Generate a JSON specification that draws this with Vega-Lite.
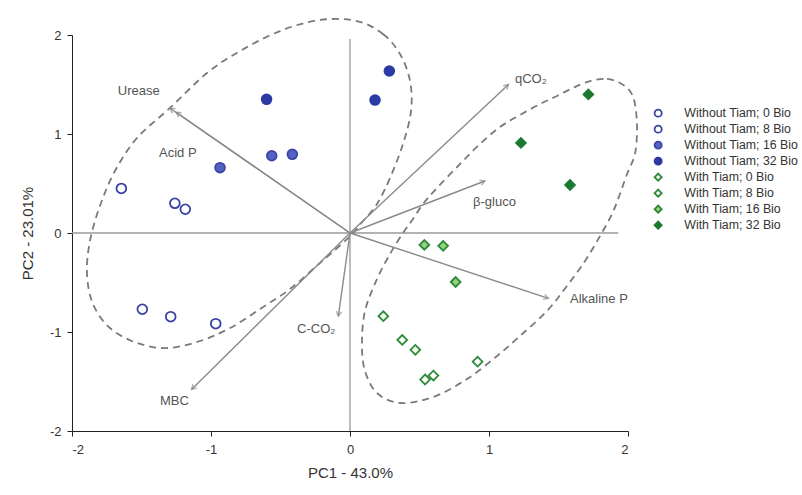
{
  "$schema": "https://vega.github.io/schema/vega-lite/v6.json",
  "width": 556,
  "height": 396,
  "autosize": {"type": "none"},
  "padding": {"left": 72, "top": 35, "right": 174, "bottom": 64},
  "background": "white",
  "config": {
    "font": "Liberation Sans",
    "view": {"stroke": null},
    "axis": {"grid": false, "domainColor": "#222", "tickColor": "#222", "tickSize": 5, "labelFontSize": 13, "labelColor": "#333", "titleFontSize": 15, "titleFontWeight": "normal", "titleColor": "#333"},
    "legend": {"symbolSize": 50, "symbolStrokeWidth": 1.8}
  },
  "datasets": {
    "scores": [
      {"group": "Without Tiam; 0 Bio", "pc1": -1.645, "pc2": 0.45},
      {"group": "Without Tiam; 0 Bio", "pc1": -1.26, "pc2": 0.30},
      {"group": "Without Tiam; 0 Bio", "pc1": -1.185, "pc2": 0.24},
      {"group": "Without Tiam; 8 Bio", "pc1": -1.494, "pc2": -0.77},
      {"group": "Without Tiam; 8 Bio", "pc1": -1.29, "pc2": -0.845},
      {"group": "Without Tiam; 8 Bio", "pc1": -0.966, "pc2": -0.916},
      {"group": "Without Tiam; 16 Bio", "pc1": -0.935, "pc2": 0.66},
      {"group": "Without Tiam; 16 Bio", "pc1": -0.563, "pc2": 0.78},
      {"group": "Without Tiam; 16 Bio", "pc1": -0.415, "pc2": 0.795},
      {"group": "Without Tiam; 32 Bio", "pc1": -0.60, "pc2": 1.35},
      {"group": "Without Tiam; 32 Bio", "pc1": 0.283, "pc2": 1.636},
      {"group": "Without Tiam; 32 Bio", "pc1": 0.18, "pc2": 1.343},
      {"group": "With Tiam; 0 Bio", "pc1": 0.24, "pc2": -0.84},
      {"group": "With Tiam; 0 Bio", "pc1": 0.376, "pc2": -1.08},
      {"group": "With Tiam; 0 Bio", "pc1": 0.47, "pc2": -1.18},
      {"group": "With Tiam; 8 Bio", "pc1": 0.918, "pc2": -1.30},
      {"group": "With Tiam; 8 Bio", "pc1": 0.54, "pc2": -1.48},
      {"group": "With Tiam; 8 Bio", "pc1": 0.60, "pc2": -1.44},
      {"group": "With Tiam; 16 Bio", "pc1": 0.535, "pc2": -0.12},
      {"group": "With Tiam; 16 Bio", "pc1": 0.67, "pc2": -0.13},
      {"group": "With Tiam; 16 Bio", "pc1": 0.76, "pc2": -0.495},
      {"group": "With Tiam; 32 Bio", "pc1": 1.715, "pc2": 1.40},
      {"group": "With Tiam; 32 Bio", "pc1": 1.23, "pc2": 0.91},
      {"group": "With Tiam; 32 Bio", "pc1": 1.583, "pc2": 0.485}
    ],
    "loadings": [
      {"var": "Urease", "x": -1.295, "y": 1.26, "lx": -1.67, "ly": 1.43},
      {"var": "Acid P", "x": -1.25, "y": 1.22, "lx": -1.374, "ly": 0.806},
      {"var": "MBC", "x": -1.14, "y": -1.58, "lx": -1.367, "ly": -1.697},
      {"var": "C-CO₂", "x": -0.084, "y": -0.84, "lx": -0.381, "ly": -0.97},
      {"var": "qCO₂", "x": 1.14, "y": 1.50, "lx": 1.187, "ly": 1.556},
      {"var": "β-gluco", "x": 0.97, "y": 0.525, "lx": 0.885, "ly": 0.313},
      {"var": "Alkaline P", "x": 1.427, "y": -0.66, "lx": 1.583, "ly": -0.667}
    ],
    "ellipses": [
      {"cluster": "A", "i": 0, "x": 0.050, "y": 2.141},
      {"cluster": "A", "i": 1, "x": 0.237, "y": 2.010},
      {"cluster": "A", "i": 2, "x": 0.360, "y": 1.808},
      {"cluster": "A", "i": 3, "x": 0.432, "y": 1.535},
      {"cluster": "A", "i": 4, "x": 0.439, "y": 1.232},
      {"cluster": "A", "i": 5, "x": 0.381, "y": 0.899},
      {"cluster": "A", "i": 6, "x": 0.288, "y": 0.556},
      {"cluster": "A", "i": 7, "x": 0.194, "y": 0.293},
      {"cluster": "A", "i": 8, "x": 0.094, "y": 0.121},
      {"cluster": "A", "i": 9, "x": -0.014, "y": -0.051},
      {"cluster": "A", "i": 10, "x": -0.216, "y": -0.303},
      {"cluster": "A", "i": 11, "x": -0.432, "y": -0.566},
      {"cluster": "A", "i": 12, "x": -0.647, "y": -0.768},
      {"cluster": "A", "i": 13, "x": -0.863, "y": -0.960},
      {"cluster": "A", "i": 14, "x": -1.079, "y": -1.091},
      {"cluster": "A", "i": 15, "x": -1.317, "y": -1.162},
      {"cluster": "A", "i": 16, "x": -1.532, "y": -1.111},
      {"cluster": "A", "i": 17, "x": -1.727, "y": -0.960},
      {"cluster": "A", "i": 18, "x": -1.849, "y": -0.717},
      {"cluster": "A", "i": 19, "x": -1.892, "y": -0.414},
      {"cluster": "A", "i": 20, "x": -1.871, "y": -0.081},
      {"cluster": "A", "i": 21, "x": -1.799, "y": 0.273},
      {"cluster": "A", "i": 22, "x": -1.691, "y": 0.626},
      {"cluster": "A", "i": 23, "x": -1.532, "y": 0.960},
      {"cluster": "A", "i": 24, "x": -1.295, "y": 1.263},
      {"cluster": "A", "i": 25, "x": -1.029, "y": 1.616},
      {"cluster": "A", "i": 26, "x": -0.791, "y": 1.838},
      {"cluster": "A", "i": 27, "x": -0.504, "y": 2.040},
      {"cluster": "A", "i": 28, "x": -0.216, "y": 2.152},
      {"cluster": "B", "i": 0, "x": 1.727, "y": 1.535},
      {"cluster": "B", "i": 1, "x": 1.849, "y": 1.556},
      {"cluster": "B", "i": 2, "x": 1.942, "y": 1.515},
      {"cluster": "B", "i": 3, "x": 2.014, "y": 1.434},
      {"cluster": "B", "i": 4, "x": 2.050, "y": 1.303},
      {"cluster": "B", "i": 5, "x": 2.065, "y": 1.061},
      {"cluster": "B", "i": 6, "x": 2.050, "y": 0.798},
      {"cluster": "B", "i": 7, "x": 1.993, "y": 0.596},
      {"cluster": "B", "i": 8, "x": 1.942, "y": 0.394},
      {"cluster": "B", "i": 9, "x": 1.885, "y": 0.192},
      {"cluster": "B", "i": 10, "x": 1.799, "y": -0.030},
      {"cluster": "B", "i": 11, "x": 1.691, "y": -0.283},
      {"cluster": "B", "i": 12, "x": 1.561, "y": -0.535},
      {"cluster": "B", "i": 13, "x": 1.417, "y": -0.788},
      {"cluster": "B", "i": 14, "x": 1.223, "y": -1.040},
      {"cluster": "B", "i": 15, "x": 1.058, "y": -1.242},
      {"cluster": "B", "i": 16, "x": 0.842, "y": -1.475},
      {"cluster": "B", "i": 17, "x": 0.597, "y": -1.657},
      {"cluster": "B", "i": 18, "x": 0.360, "y": -1.717},
      {"cluster": "B", "i": 19, "x": 0.194, "y": -1.616},
      {"cluster": "B", "i": 20, "x": 0.108, "y": -1.394},
      {"cluster": "B", "i": 21, "x": 0.086, "y": -1.121},
      {"cluster": "B", "i": 22, "x": 0.108, "y": -0.788},
      {"cluster": "B", "i": 23, "x": 0.194, "y": -0.465},
      {"cluster": "B", "i": 24, "x": 0.288, "y": -0.212},
      {"cluster": "B", "i": 25, "x": 0.381, "y": 0.000},
      {"cluster": "B", "i": 26, "x": 0.453, "y": 0.141},
      {"cluster": "B", "i": 27, "x": 0.525, "y": 0.293},
      {"cluster": "B", "i": 28, "x": 0.626, "y": 0.455},
      {"cluster": "B", "i": 29, "x": 0.791, "y": 0.697},
      {"cluster": "B", "i": 30, "x": 0.935, "y": 0.899},
      {"cluster": "B", "i": 31, "x": 1.079, "y": 1.071},
      {"cluster": "B", "i": 32, "x": 1.223, "y": 1.192},
      {"cluster": "B", "i": 33, "x": 1.367, "y": 1.303},
      {"cluster": "B", "i": 34, "x": 1.489, "y": 1.384},
      {"cluster": "B", "i": 35, "x": 1.604, "y": 1.465}
    ],
    "axes0": [
      {"x1": -2, "x2": 1.93, "y1": 0, "y2": 0},
      {"x1": 0, "x2": 0, "y1": -2, "y2": 1.96}
    ]
  },
  "layer": [
    {
      "data": {"name": "axes0"},
      "mark": {"type": "rule", "color": "#9a9a9a", "strokeWidth": 1.3},
      "encoding": {
        "x": {"field": "x1", "type": "quantitative", "scale": {"domain": [-2, 2], "nice": false, "zero": false}, "axis": {"values": [-2, -1, 0, 1, 2], "labelExpr": "'' + datum.value", "title": "PC1 - 43.0%", "titlePadding": 9, "labelPadding": 7}},
        "x2": {"field": "x2"},
        "y": {"field": "y1", "type": "quantitative", "scale": {"domain": [-2, 2], "nice": false, "zero": false}, "axis": {"values": [-2, -1, 0, 1, 2], "labelExpr": "'' + datum.value", "title": "PC2 - 23.01%", "titlePadding": 14, "labelPadding": 6}},
        "y2": {"field": "y2"}
      }
    },
    {
      "data": {"name": "ellipses"},
      "mark": {"type": "line", "interpolate": "cardinal-closed", "color": "#7a7a7a", "strokeWidth": 1.8, "strokeDash": [7, 5]},
      "encoding": {
        "x": {"field": "x", "type": "quantitative"},
        "y": {"field": "y", "type": "quantitative"},
        "detail": {"field": "cluster", "type": "nominal"},
        "order": {"field": "i", "type": "quantitative"}
      }
    },
    {
      "data": {"name": "loadings"},
      "transform": [{"calculate": "0", "as": "o"}],
      "mark": {"type": "rule", "color": "#8a8a8a", "strokeWidth": 1.4},
      "encoding": {
        "x": {"field": "x", "type": "quantitative"},
        "y": {"field": "y", "type": "quantitative"},
        "x2": {"field": "o"},
        "y2": {"field": "o"}
      }
    },
    {
      "data": {"name": "loadings"},
      "transform": [{"calculate": "atan2(139*datum.x, 99*datum.y)*180/PI", "as": "ang"}],
      "mark": {"type": "point", "shape": "M-0.55,1L0,0L0.55,1", "filled": false, "stroke": "#8a8a8a", "strokeWidth": 1.4, "size": 90},
      "encoding": {
        "x": {"field": "x", "type": "quantitative"},
        "y": {"field": "y", "type": "quantitative"},
        "angle": {"field": "ang", "type": "quantitative", "scale": null}
      }
    },
    {
      "data": {"name": "loadings"},
      "mark": {"type": "text", "align": "left", "baseline": "middle", "fontSize": 13, "color": "#555"},
      "encoding": {
        "x": {"field": "lx", "type": "quantitative"},
        "y": {"field": "ly", "type": "quantitative"},
        "text": {"field": "var", "type": "nominal"}
      }
    },
    {
      "data": {"name": "scores"},
      "mark": {"type": "point", "filled": true, "strokeWidth": 1.8, "opacity": 1, "size": 95},
      "encoding": {
        "x": {"field": "pc1", "type": "quantitative"},
        "y": {"field": "pc2", "type": "quantitative"},
        "shape": {"field": "group", "type": "nominal", "scale": {"domain": ["Without Tiam; 0 Bio", "Without Tiam; 8 Bio", "Without Tiam; 16 Bio", "Without Tiam; 32 Bio", "With Tiam; 0 Bio", "With Tiam; 8 Bio", "With Tiam; 16 Bio", "With Tiam; 32 Bio"], "range": ["circle", "circle", "circle", "circle", "diamond", "diamond", "diamond", "diamond"]}, "legend": {"title": null, "orient": "none", "legendX": 580, "legendY": 72, "labelFontSize": 12.3, "labelColor": "#333", "rowPadding": 1, "labelOffset": 20}},
        "fill": {"field": "group", "type": "nominal", "scale": {"domain": ["Without Tiam; 0 Bio", "Without Tiam; 8 Bio", "Without Tiam; 16 Bio", "Without Tiam; 32 Bio", "With Tiam; 0 Bio", "With Tiam; 8 Bio", "With Tiam; 16 Bio", "With Tiam; 32 Bio"], "range": ["#ffffff", "#ffffff", "#5562c2", "#2c3aa6", "#f2faee", "#ffffff", "#95d27c", "#1c7a30"]}, "legend": {"title": null, "orient": "none", "legendX": 580, "legendY": 72, "labelFontSize": 12.3, "labelColor": "#333", "rowPadding": 1, "labelOffset": 20}},
        "stroke": {"field": "group", "type": "nominal", "scale": {"domain": ["Without Tiam; 0 Bio", "Without Tiam; 8 Bio", "Without Tiam; 16 Bio", "Without Tiam; 32 Bio", "With Tiam; 0 Bio", "With Tiam; 8 Bio", "With Tiam; 16 Bio", "With Tiam; 32 Bio"], "range": ["#3a42a2", "#3a42a2", "#3a47a8", "#2c3aa6", "#2c8a3a", "#2c8a3a", "#2c8a3a", "#1c7a30"]}, "legend": {"title": null, "orient": "none", "legendX": 580, "legendY": 72, "labelFontSize": 12.3, "labelColor": "#333", "rowPadding": 1, "labelOffset": 20}}
      }
    }
  ]
}
